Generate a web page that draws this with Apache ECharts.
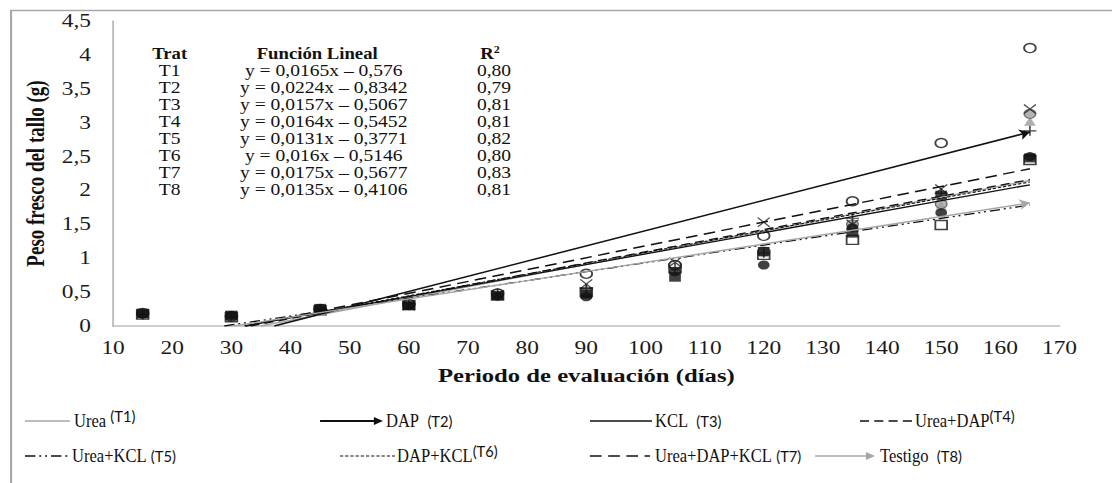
<!DOCTYPE html>
<html><head><meta charset="utf-8">
<script src="https://cdn.jsdelivr.net/npm/echarts@6/dist/echarts.min.js"></script>
<style>
html,body{margin:0;padding:0;background:#fff;overflow:hidden;width:1112px;height:483px}
#c{width:856px;height:483px;transform:scaleX(1.3);transform-origin:0 0}
</style>
</head><body><div id="c"></div>
<script>
// ---- data ----
const days = [15, 30, 45, 60, 75, 90, 105, 120, 135, 150, 165];
const treatments = ['T1', 'T2', 'T3', 'T4', 'T5', 'T6', 'T7', 'T8'];
const names = ['Urea', 'DAP', 'KCL', 'Urea+DAP', 'Urea+KCL', 'DAP+KCL', 'Urea+DAP+KCL', 'Testigo'];
const t1Urea = [0.18, 0.14, 0.24, 0.31, 0.50, 0.56, 0.88, 1.08, 1.49, 1.77, 3.02];
const t2Dap = [0.19, 0.14, 0.25, 0.32, 0.48, 0.77, 0.90, 1.33, 1.84, 2.70, 4.10];
const t3Kcl = [0.17, 0.14, 0.25, 0.33, 0.47, 0.55, 0.86, 1.08, 1.59, 1.96, 2.88];
const t4UreaDap = [0.19, 0.16, 0.26, 0.30, 0.45, 0.47, 0.72, 1.10, 1.37, 1.93, 2.48];
const t5UreaKcl = [0.18, 0.15, 0.24, 0.30, 0.44, 0.43, 0.80, 0.90, 1.45, 1.67, 2.50];
const t6DapKcl = [0.18, 0.15, 0.25, 0.32, 0.48, 0.50, 0.90, 1.10, 1.50, 1.80, 3.13];
const t7UreaDapKcl = [0.18, 0.15, 0.24, 0.30, 0.46, 0.62, 0.94, 1.53, 1.50, 2.02, 3.20];
const t8Testigo = [0.17, 0.13, 0.23, 0.31, 0.45, 0.50, 0.85, 1.05, 1.27, 1.49, 2.45];
const slopes = [0.0165, 0.0224, 0.0157, 0.0164, 0.0131, 0.016, 0.0175, 0.0135];
const intercepts = [-0.576, -0.8342, -0.5067, -0.5452, -0.3771, -0.5146, -0.5677, -0.4106];
const r2 = ['0,80', '0,79', '0,81', '0,81', '0,82', '0,80', '0,83', '0,81'];
const xMin = 10, xMax = 170, xStep = 10;
const yMin = 0, yMax = 4.5, yStep = 0.5;
const lastDay = 165;

const allSeries = [t1Urea, t2Dap, t3Kcl, t4UreaDap, t5UreaKcl, t6DapKcl, t7UreaDapKcl, t8Testigo];

// ---- styles ----
const SERIF = "'Liberation Serif','Times New Roman',serif";
const SANS = "Lato,'Liberation Sans',sans-serif";
const plusPath = 'path://M4.4,0h1.2v4.4h4.4v1.2h-4.4v4.4h-1.2v-4.4h-4.4v-1.2h4.4z';
const crossPath = 'path://M0.8,0L5,4.2L9.2,0L10,0.8L5.8,5L10,9.2L9.2,10L5,5.8L0.8,10L0,9.2L4.2,5L0,0.8Z';
const markers = [
  {symbol: 'triangle', size: 9, item: {color: '#9a9a9a'}, z: 3},
  {symbol: 'circle', size: 9, item: {color: '#fff', borderColor: '#111', borderWidth: 1.4}, z: 4},
  {symbol: plusPath, size: 10, item: {color: '#111'}, z: 5},
  {symbol: 'rect', size: 9, item: {color: '#111'}, z: 7},
  {symbol: 'circle', size: 9, item: {color: '#111'}, z: 6},
  {symbol: 'circle', size: 9, item: {color: '#a0a0a0', borderColor: '#555', borderWidth: 1}, z: 3},
  {symbol: crossPath, size: 10, item: {color: '#222'}, z: 4},
  {symbol: 'rect', size: 9, item: {color: '#fff', borderColor: '#111', borderWidth: 1.4}, z: 2}
];
const trendStyles = [
  {color: '#a6a6a6', width: 1.4, type: 'solid', arrow: false},
  {color: '#111', width: 1.5, type: 'solid', arrow: true},
  {color: '#111', width: 1.3, type: 'solid', arrow: false},
  {color: '#111', width: 1.3, type: [7, 4], arrow: false},
  {color: '#111', width: 1.3, type: [8, 3, 1.5, 3, 1.5, 3], arrow: false},
  {color: '#111', width: 1.1, type: [2.5, 1.5], arrow: false},
  {color: '#111', width: 1.5, type: [9, 5], arrow: false},
  {color: '#a6a6a6', width: 1.4, type: 'solid', arrow: true}
];

const fmt = v => String(v).replace('.', ',');

const series = [];
allSeries.forEach((arr, i) => {
  series.push({
    type: 'scatter', name: names[i],
    data: days.map((d, k) => [d, arr[k]]),
    symbol: markers[i].symbol, symbolSize: markers[i].size,
    itemStyle: markers[i].item, z: markers[i].z
  });
});
slopes.forEach((a, i) => {
  const b = intercepts[i];
  const x0 = -b / a;
  const st = trendStyles[i];
  series.push({
    type: 'lines', coordinateSystem: 'cartesian2d', name: names[i] + ' tendencia',
    data: [{coords: [[x0, 0], [lastDay, a * lastDay + b]]}],
    symbol: ['none', st.arrow ? 'arrow' : 'none'], symbolSize: 8,
    lineStyle: {color: st.color, width: st.width, type: st.type, opacity: 1},
    silent: true, z: 8
  });
});

// ---- table (graphic text) ----
const graphic = [];
graphic.push({type: 'rect', left: 6, top: 8, shape: {width: 900, height: 520},
  style: {fill: 'none', stroke: '#a8a8a8', lineWidth: 1.6}, silent: true});
const TX = 1.15 / 1.3, TXH = 1.1 / 1.3;
const hdrY = 53, rowY0 = 70, rowDy = 17;
const colT = 130.5, colF = 249, colR = 380;
const txt = (x, y, text, font, sx, extra) => graphic.push({type: 'text', x, y, scaleX: sx,
  style: Object.assign({text, font, fill: '#111', align: 'center', verticalAlign: 'middle'}, extra || {})});
txt(colT, hdrY, 'Trat', 'bold 17px ' + SERIF, TXH);
txt(244, hdrY, 'Función Lineal', 'bold 17px ' + SERIF, TXH);
txt(377, hdrY, 'R{s|2}', 'bold 17px ' + SERIF, TXH,
  {rich: {s: {fontSize: 11, fontWeight: 'bold', fontFamily: SERIF, verticalAlign: 'top', lineHeight: 12, fill: '#111'}}});
treatments.forEach((t, i) => {
  const y = rowY0 + i * rowDy;
  const a = slopes[i], b = intercepts[i];
  txt(colT, y, t, '17px ' + SERIF, TX);
  txt(colF, y, 'y = ' + fmt(a) + 'x \u2013 ' + fmt(-b), '17px ' + SERIF, TX);
  txt(colR, y, r2[i], '17px ' + SERIF, TX);
});

// ---- legend (graphic) ----
const LX = 0.92 / 1.3; // legend text is condensed compared with the stretched picture
const legendItems = [
  {x1: 19.2, x2: 53.8, tx: 56.9, y: 421, label: names[0] + ' ', tag: '(T1)', sup: true},
  {x1: 246.2, x2: 294.6, tx: 296.9, y: 421, label: names[1] + '  ', tag: '(T2)', sup: false},
  {x1: 453.8, x2: 501.5, tx: 503.8, y: 421, label: names[2] + '  ', tag: '(T3)', sup: false},
  {x1: 661.5, x2: 701.5, tx: 703.8, y: 421, label: names[3], tag: '(T4)', sup: true},
  {x1: 19.2, x2: 53.8, tx: 55.4, y: 456, label: names[4] + ' ', tag: '(T5)', sup: false},
  {x1: 261.5, x2: 303.8, tx: 305.4, y: 456, label: names[5], tag: '(T6)', sup: true},
  {x1: 453.8, x2: 500, tx: 503.8, y: 456, label: names[6] + ' ', tag: '(T7)', sup: false},
  {x1: 626.9, x2: 673.1, tx: 676.9, y: 456, label: names[7] + '  ', tag: '(T8)', sup: false}
];
legendItems.forEach((it, i) => {
  const st = trendStyles[i];
  const x2 = st.arrow ? it.x2 - 6 : it.x2;
  graphic.push({type: 'line', shape: {x1: it.x1, y1: it.y, x2: x2, y2: it.y},
    style: {stroke: st.color, lineWidth: st.width + (i === 1 ? 0.6 : 0), lineDash: st.type === 'solid' ? null : st.type}, silent: true});
  if (st.arrow) {
    graphic.push({type: 'polygon', shape: {points: [[it.x2 - 7, it.y - 4], [it.x2, it.y], [it.x2 - 7, it.y + 4]]},
      style: {fill: st.color}, silent: true});
  }
  graphic.push({type: 'text', x: it.tx, y: it.y, scaleX: LX, style: {
    text: '{a|' + it.label + '}' + (it.sup ? '{s|' + it.tag + '}' : '{t|' + it.tag + '}'),
    align: 'left', verticalAlign: 'middle',
    rich: {
      a: {fontFamily: SERIF, fontSize: 18, fill: '#111', lineHeight: 26, verticalAlign: 'middle'},
      s: {fontFamily: SANS, fontSize: 16, fill: '#111', lineHeight: 14, verticalAlign: 'top'},
      t: {fontFamily: SANS, fontSize: 16, fill: '#111', lineHeight: 26, verticalAlign: 'middle'}
    }
  }});
});

const chart = echarts.init(document.getElementById('c'), null, {renderer: 'svg'});
chart.setOption({
  animation: false,
  backgroundColor: '#fff',
  grid: {left: 87, right: 41, top: 21, bottom: 157, containLabel: false},
  xAxis: {
    type: 'value', min: xMin, max: xMax, interval: xStep,
    name: 'Periodo de evaluación (días)', nameLocation: 'middle', nameGap: 40,
    nameTextStyle: {fontFamily: SERIF, fontWeight: 'bold', fontSize: 19, color: '#111'},
    axisLine: {show: true, lineStyle: {color: '#bdbdbd', width: 1.5}},
    axisTick: {show: false}, splitLine: {show: false},
    axisLabel: {fontFamily: SERIF, fontSize: 18, color: '#1a1a1a', margin: 13}
  },
  yAxis: {
    type: 'value', min: yMin, max: yMax, interval: yStep,
    name: 'Peso fresco del tallo (g)', nameLocation: 'middle', nameGap: 49, nameRotate: 90,
    nameTextStyle: {fontFamily: SERIF, fontWeight: 'bold', fontSize: 19, color: '#111'},
    axisLine: {show: true, lineStyle: {color: '#bdbdbd', width: 1.5}},
    axisTick: {show: false}, splitLine: {show: false},
    axisLabel: {fontFamily: SERIF, fontSize: 18, color: '#1a1a1a', margin: 17, formatter: fmt}
  },
  series,
  graphic
});
</script>
</body></html>
